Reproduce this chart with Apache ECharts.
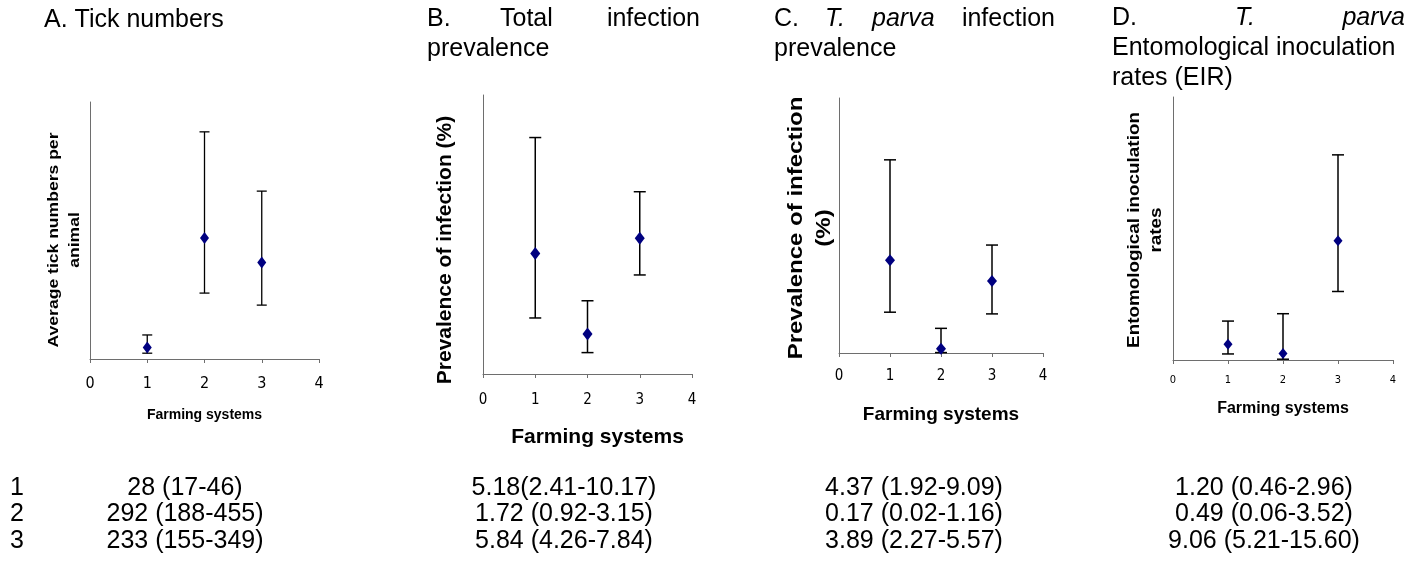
<!DOCTYPE html>
<html>
<head>
<meta charset="utf-8">
<script src="https://cdn.jsdelivr.net/npm/echarts@6/dist/echarts.min.js"></script>
<style>html,body{margin:0;padding:0;background:#fff;}#main{width:1424px;height:565px;}</style>
</head>
<body>
<div id="main"></div>
<script>
// ---- data ----
const categories = [1, 2, 3];
const tickMeans = [28, 292, 233];
const tickLow = [14, 159, 130];
const tickHigh = [58, 548, 405];
const totalMeans = [5.18, 1.72, 5.84];
const totalLow = [2.41, 0.92, 4.26];
const totalHigh = [10.17, 3.15, 7.84];
const parvaMeans = [4.37, 0.2, 3.39];
const parvaLow = [1.92, 0.02, 1.84];
const parvaHigh = [9.09, 1.16, 5.08];
const eirMeans = [1.20, 0.49, 9.06];
const eirLow = [0.46, 0.06, 5.21];
const eirHigh = [2.96, 3.52, 15.60];
const xTickMax = 4;
const yMaxes = [620, 12, 12, 20];
// table
const rowLabels = ['1', '2', '3'];
const tableTick = ['28 (17-46)', '292 (188-455)', '233 (155-349)'];
const tableTotal = ['5.18(2.41-10.17)', '1.72 (0.92-3.15)', '5.84 (4.26-7.84)'];
const tableParva = ['4.37 (1.92-9.09)', '0.17 (0.02-1.16)', '3.89 (2.27-5.57)'];
const tableEir = ['1.20 (0.46-2.96)', '0.49 (0.06-3.52)', '9.06 (5.21-15.60)'];
// titles
const yNames = ['Average tick numbers per\nanimal', 'Prevalence of infection (%)', 'Prevalence of infection\n(%)', 'Entomological inoculation\nrates'];
const xName = 'Farming systems';

// ---- layout / styles ----
const SANS = '"Liberation Sans", Arial, sans-serif';
const NARROW = '"Liberation Sans Narrow", "DejaVu Sans Condensed", "Liberation Sans", sans-serif';
const panels = [
  {grid: {left: 90, top: 102, width: 229, height: 257}, lblSize: 16, lblMargin: 17, nameSize: 14, nameGap: 49, namePad: [0,0,0,0], sym: [9, 12], cap: 10, lw: 1.3,
   yName: {x: 64, y: 240, size: 15, lh: 21, sx: 1.17}},
  {grid: {left: 483, top: 95, width: 209, height: 279}, lblSize: 15, lblMargin: 19, nameSize: 21, nameGap: 53, namePad: [0,0,0,20], sym: [10, 13], cap: 12, lw: 1.5,
   yName: {x: 445, y: 250, size: 20, lh: 24, sx: 1.05}},
  {grid: {left: 839, top: 98, width: 204, height: 255}, lblSize: 15, lblMargin: 16, nameSize: 19, nameGap: 52, namePad: [0,0,0,0], sym: [10, 12], cap: 12, lw: 1.5,
   yName: {x: 810, y: 228, size: 20, lh: 28, sx: 1.2}},
  {grid: {left: 1173, top: 97, width: 220, height: 263}, lblSize: 11, lblMargin: 15, nameSize: 16, nameGap: 41, namePad: [0,0,0,0], sym: [9, 11], cap: 12, lw: 1.5,
   yName: {x: 1145, y: 230, size: 17, lh: 22, sx: 1.11}}
];
const seriesData = [
  [tickMeans, tickLow, tickHigh],
  [totalMeans, totalLow, totalHigh],
  [parvaMeans, parvaLow, parvaHigh],
  [eirMeans, eirLow, eirHigh]
];

function errRender(cap, lw) {
  return function (params, api) {
    const x = api.value(0), lo = api.value(1), hi = api.value(2);
    const a = api.coord([x, lo]), b = api.coord([x, hi]);
    const st = {stroke: '#000', lineWidth: lw};
    return {type: 'group', children: [
      {type: 'line', shape: {x1: a[0], y1: a[1], x2: b[0], y2: b[1]}, style: st},
      {type: 'line', shape: {x1: a[0] - cap / 2, y1: a[1], x2: a[0] + cap / 2, y2: a[1]}, style: st},
      {type: 'line', shape: {x1: b[0] - cap / 2, y1: b[1], x2: b[0] + cap / 2, y2: b[1]}, style: st}
    ]};
  };
}

const grid = [], xAxis = [], yAxis = [], series = [];
panels.forEach((p, i) => {
  grid.push(Object.assign({containLabel: false}, p.grid));
  xAxis.push({
    type: 'value', gridIndex: i, min: 0, max: xTickMax, interval: 1,
    name: xName, nameLocation: 'middle', nameGap: p.nameGap,
    nameTextStyle: {fontFamily: SANS, fontWeight: 'bold', fontSize: p.nameSize, color: '#000', padding: p.namePad},
    axisLine: {show: true, onZero: false, lineStyle: {color: '#6e6e6e', width: 1}},
    axisTick: {show: true, length: 4, lineStyle: {color: '#6e6e6e'}},
    axisLabel: {fontFamily: NARROW, fontSize: p.lblSize, color: '#000', margin: p.lblMargin},
    splitLine: {show: false}
  });
  yAxis.push({
    type: 'value', gridIndex: i, min: 0, max: yMaxes[i],
    axisLine: {show: true, lineStyle: {color: '#6e6e6e', width: 1}},
    axisTick: {show: false}, axisLabel: {show: false}, splitLine: {show: false}
  });
  const [m, lo, hi] = seriesData[i];
  series.push({
    type: 'custom', xAxisIndex: i, yAxisIndex: i, z: 2,
    renderItem: errRender(p.cap, p.lw),
    data: categories.map((c, k) => [c, lo[k], hi[k]]),
    silent: true
  });
  series.push({
    type: 'scatter', xAxisIndex: i, yAxisIndex: i, z: 3,
    symbol: 'diamond', symbolSize: p.sym,
    itemStyle: {color: '#000080', opacity: 1},
    data: categories.map((c, k) => [c, m[k]])
  });
});

function txt(text, x, y, o) {
  o = o || {};
  return {
    type: 'text', x: x, y: y, rotation: o.rot || 0, scaleX: o.sx || 1, silent: true,
    style: {text: text, font: o.font || ('25px ' + SANS), fill: '#000',
      textAlign: o.align || 'left', textVerticalAlign: 'middle', lineHeight: o.lh}
  };
}
const IT = 'italic 25px ' + SANS;
const graphic = [
  txt('A. Tick numbers', 44, 20),
  txt('B.', 427, 19), txt('Total', 500, 19), txt('infection', 700, 19, {align: 'right'}),
  txt('prevalence', 427, 49),
  txt('C.', 774, 19), txt('T.', 825, 19, {font: IT}), txt('parva', 872, 19, {font: IT}),
  txt('infection', 1055, 19, {align: 'right'}),
  txt('prevalence', 774, 49),
  txt('D.', 1112, 18), txt('T.', 1235, 18, {font: IT}), txt('parva', 1405, 18, {font: IT, align: 'right'}),
  txt('Entomological inoculation', 1112, 48),
  txt('rates (EIR)', 1112, 78)
];
panels.forEach((p, i) => {
  const n = p.yName;
  graphic.push(txt(yNames[i], n.x, n.y, {rot: Math.PI / 2, sx: n.sx, align: 'center', lh: n.lh,
    font: 'bold ' + n.size + 'px ' + SANS}));
});
const rowY = [488, 514, 541];
const colX = [185, 564, 914, 1264];
const cols = [tableTick, tableTotal, tableParva, tableEir];
rowLabels.forEach((r, k) => {
  graphic.push(txt(r, 10, rowY[k]));
  cols.forEach((c, j) => graphic.push(txt(c[k], colX[j], rowY[k], {align: 'center'})));
});

const chart = echarts.init(document.getElementById('main'), null, {renderer: 'canvas'});
chart.setOption({
  animation: false,
  backgroundColor: '#fff',
  grid: grid, xAxis: xAxis, yAxis: yAxis, series: series, graphic: graphic
});
</script>
</body>
</html>
